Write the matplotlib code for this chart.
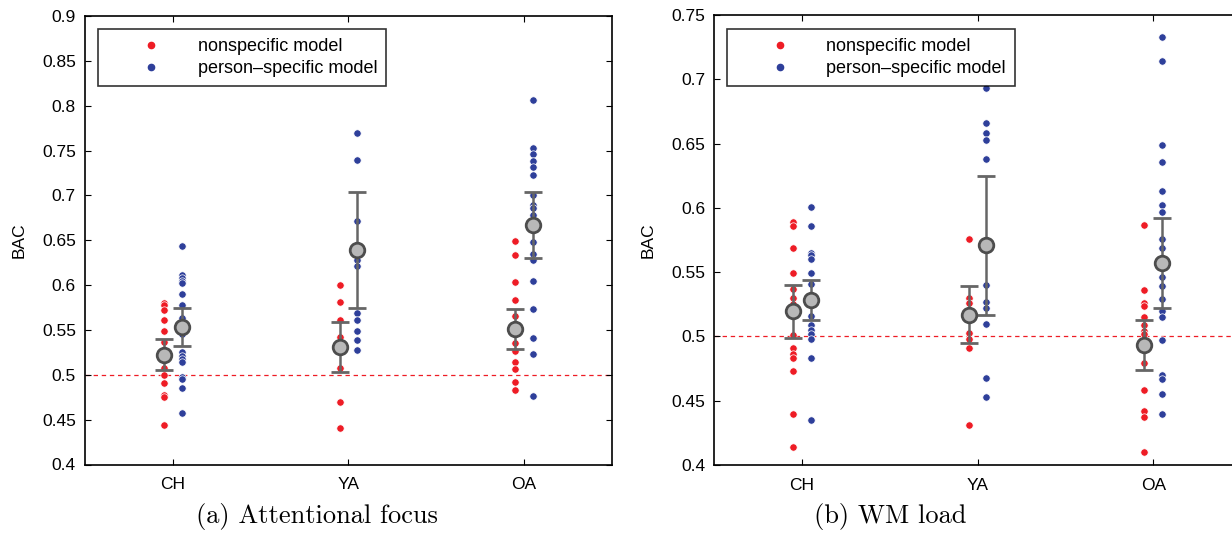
import matplotlib
matplotlib.use("Agg")
import matplotlib.pyplot as plt
import numpy as np
from matplotlib.lines import Line2D

plt.rcParams.update({
    "font.family": ["Liberation Sans", "DejaVu Sans"],
    "font.size": 11,
    "axes.linewidth": 1.2,
    "xtick.direction": "in", "ytick.direction": "in",
    "xtick.top": True, "ytick.right": True,
    "xtick.major.size": 4, "ytick.major.size": 4,
})

C_RED = "#ee1c25"
C_BLUE = "#2e3f9a"
C_ERR = "#666666"

groups = ["CH", "YA", "OA"]

# (a) Attentional focus
att_red = [
    [0.580, 0.578, 0.572, 0.561, 0.549, 0.537, 0.523, 0.508, 0.500, 0.491, 0.478, 0.475, 0.444],
    [0.600, 0.581, 0.561, 0.542, 0.508, 0.470, 0.441],
    [0.649, 0.633, 0.603, 0.583, 0.566, 0.557, 0.550, 0.536, 0.526, 0.514, 0.506, 0.492, 0.483],
]
att_blue = [
    [0.644, 0.611, 0.608, 0.605, 0.602, 0.590, 0.578, 0.563, 0.545, 0.525, 0.521, 0.518, 0.514,
     0.498, 0.495, 0.485, 0.457],
    [0.770, 0.739, 0.671, 0.645, 0.628, 0.621, 0.569, 0.561, 0.549, 0.539, 0.528],
    [0.806, 0.753, 0.746, 0.738, 0.732, 0.723, 0.701, 0.689, 0.686, 0.678, 0.648, 0.635, 0.628,
     0.605, 0.573, 0.541, 0.523, 0.476],
]
att_red_mean = [0.522, 0.531, 0.551]
att_red_lo = [0.505, 0.503, 0.529]
att_red_hi = [0.540, 0.559, 0.573]
att_blue_mean = [0.553, 0.639, 0.667]
att_blue_lo = [0.532, 0.574, 0.630]
att_blue_hi = [0.574, 0.704, 0.704]

# (b) WM load
wm_red = [
    [0.589, 0.586, 0.569, 0.549, 0.537, 0.530, 0.525, 0.501, 0.491, 0.486, 0.483, 0.473, 0.440, 0.414],
    [0.576, 0.530, 0.526, 0.503, 0.498, 0.491, 0.431],
    [0.587, 0.536, 0.526, 0.524, 0.515, 0.509, 0.504, 0.502, 0.479, 0.458, 0.442, 0.437, 0.410],
]
wm_blue = [
    [0.601, 0.586, 0.565, 0.563, 0.560, 0.549, 0.541, 0.516, 0.509, 0.505, 0.502, 0.498, 0.483, 0.435],
    [0.693, 0.666, 0.658, 0.653, 0.638, 0.540, 0.527, 0.522, 0.510, 0.468, 0.453],
    [0.733, 0.714, 0.649, 0.636, 0.613, 0.602, 0.597, 0.576, 0.569, 0.546, 0.539, 0.529, 0.520,
     0.515, 0.497, 0.470, 0.467, 0.455, 0.440],
]
wm_red_mean = [0.520, 0.517, 0.493]
wm_red_lo = [0.499, 0.495, 0.474]
wm_red_hi = [0.540, 0.539, 0.513]
wm_blue_mean = [0.528, 0.571, 0.557]
wm_blue_lo = [0.513, 0.517, 0.522]
wm_blue_hi = [0.544, 0.625, 0.592]

att_yticks = np.arange(0.4, 0.901, 0.05)
wm_yticks = np.arange(0.4, 0.751, 0.05)

W, H = 1232, 535
fig = plt.figure(figsize=(W / 100, H / 100), dpi=100)
ax_a = fig.add_axes([85 / W, 1 - 464.5 / H, 526.7 / W, 448.5 / H])
ax_b = fig.add_axes([714.3 / W, 1 - 465 / H, 526.7 / W, 450 / H])


def panel(ax, red, blue, rm, rlo, rhi, bm, blo, bhi, yticks, leg_xy):
    off = 0.05
    for i in range(len(groups)):
        ax.scatter(np.full(len(red[i]), i + 1 - off), red[i], s=28, color=C_RED,
                   edgecolor="white", linewidth=0.5, zorder=3)
        ax.scatter(np.full(len(blue[i]), i + 1 + off), blue[i], s=28, color=C_BLUE,
                   edgecolor="white", linewidth=0.5, zorder=3)
    x = np.arange(1, len(groups) + 1)
    for xs, m, lo, hi in [(x - off, rm, rlo, rhi), (x + off, bm, blo, bhi)]:
        m = np.array(m)
        yerr = [m - np.array(lo), np.array(hi) - m]
        ax.errorbar(xs, m, yerr=yerr, fmt="o", color=C_ERR, ecolor=C_ERR, elinewidth=1.8,
                    capsize=6.5, capthick=1.8, markersize=10.5, markerfacecolor="#b8b8b8",
                    markeredgecolor="#4d4d4d", markeredgewidth=2, zorder=4)
    ax.axhline(0.5, color=C_RED, linestyle=(0, (3.5, 3)), linewidth=0.9, zorder=1)
    ax.set_xlim(0.5, 3.5)
    ax.set_ylim(yticks[0], yticks[-1])
    ax.set_xticks(x)
    ax.set_xticklabels(groups, fontsize=12.5)
    ax.set_yticks(yticks)
    ax.set_yticklabels([f"{v:g}" for v in np.round(yticks, 2)], fontsize=12.5)
    ax.tick_params(axis="x", pad=9)
    ax.tick_params(axis="y", pad=6.5)
    ax.set_ylabel("BAC", fontsize=12.5, labelpad=11)
    handles = [
        Line2D([], [], linestyle="none", marker="o", markersize=4.5, color=C_RED),
        Line2D([], [], linestyle="none", marker="o", markersize=4.5, color=C_BLUE),
    ]
    leg = ax.legend(handles, ["nonspecific model", "person\u2013specific model"],
                    loc="upper left", bbox_to_anchor=leg_xy, borderaxespad=0,
                    fontsize=13, frameon=True, fancybox=False, handlelength=4.9,
                    handletextpad=0.12, borderpad=0.5, labelspacing=0.28)
    leg.get_frame().set_edgecolor("black")
    leg.get_frame().set_linewidth(1.2)


panel(ax_a, att_red, att_blue, att_red_mean, att_red_lo, att_red_hi,
      att_blue_mean, att_blue_lo, att_blue_hi, att_yticks, (0.0247, 0.971))
panel(ax_b, wm_red, wm_blue, wm_red_mean, wm_red_lo, wm_red_hi,
      wm_blue_mean, wm_blue_lo, wm_blue_hi, wm_yticks, (0.0235, 0.969))

fig.text(317 / W, 1 - 517 / H, "(a) Attentional focus", family="cmr10", fontsize=19,
         ha="center", va="center")
fig.text(890 / W, 1 - 517 / H, "(b) WM load", family="cmr10", fontsize=19,
         ha="center", va="center")

fig.savefig("out.png", dpi=100)
